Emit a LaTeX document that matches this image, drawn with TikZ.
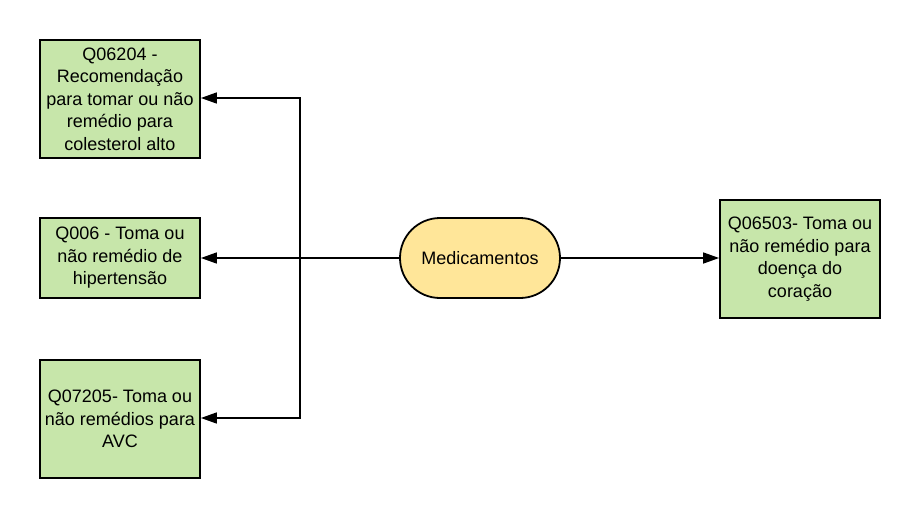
\documentclass[tikz,border=0pt]{standalone}
\usepackage{fontspec}
\setmainfont{Liberation Sans}
\usetikzlibrary{arrows.meta,shapes.misc}
\definecolor{boxgreen}{HTML}{C7E6AA}
\definecolor{pillyellow}{HTML}{FFE699}
\tikzset{
  qbox/.style={draw=black, line width=1.8pt, fill=boxgreen, minimum width=160pt, align=center, inner sep=0pt, font=\fontsize{18}{22.5}\selectfont},
  pill/.style={draw=black, line width=1.8pt, fill=pillyellow, rounded rectangle, minimum width=160pt, minimum height=80pt, inner sep=0pt, font=\fontsize{18}{22.5}\selectfont},
  conn/.style={line width=1.6pt, -{Triangle[length=16pt,width=11pt]}},
  seg/.style={line width=1.6pt}
}
\begin{document}
\begin{tikzpicture}[x=1pt,y=-1pt]
\useasboundingbox (0,0) rectangle (920,517);
\node[qbox, minimum height=118pt] (b1) at (120,99) {Q06204 -\\Recomendação\\para tomar ou não\\remédio para\\colesterol alto};
\node[qbox, minimum height=80pt] (b2) at (120,258) {Q006 - Toma ou\\não remédio de\\hipertensão};
\node[qbox, minimum height=118pt] (b3) at (120,419) {Q07205- Toma ou\\não remédios para\\AVC};
\node[qbox, minimum height=118pt] (b4) at (800,259) {Q06503- Toma ou\\não remédio para\\doença do\\coração};
\node[pill] (m) at (480,258) {Medicamentos};
\coordinate (t) at (300,98);
\coordinate (j) at (300,258);
\coordinate (bo) at (300,418);
\draw[conn] (m.west) -- (b2.east);
\draw[conn] (j) -- (t) -- (b1.east |- t);
\draw[conn] (j) -- (bo) -- (b3.east |- bo);
\draw[conn] (m.east) -- (b4.west |- m.east);
\end{tikzpicture}
\end{document}
